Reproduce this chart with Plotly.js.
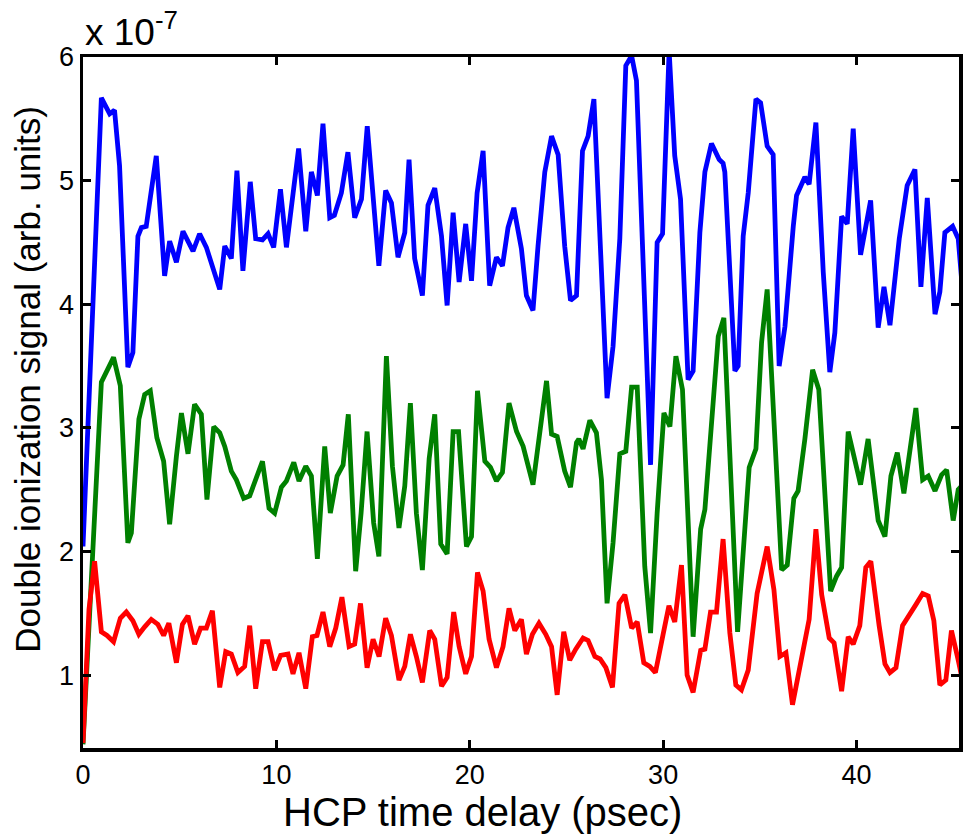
<!DOCTYPE html>
<html>
<head>
<meta charset="utf-8">
<script src="https://cdn.plot.ly/plotly-3.0.1.min.js"></script>
<style>
html,body{margin:0;padding:0;background:#fff;}
#chart{width:963px;height:838px;}
</style>
</head>
<body>
<div id="chart"></div>
<script>
// Values in units of 1e-7 (arb. units); x in psec
const blueX = [0,0.95,1.38,1.63,1.89,2.32,2.58,2.84,3.02,3.27,3.79,4.22,4.48,4.83,5.17,5.69,6.03,6.38,7.07,7.33,7.67,7.96,8.27,8.65,8.93,9.28,9.57,9.86,10.21,10.52,11.15,11.52,11.81,12.12,12.41,12.76,13.0,13.36,13.70,14.05,14.40,14.70,15.3,15.65,15.95,16.29,16.64,16.86,17.15,17.55,17.84,18.19,18.54,18.83,19.14,19.45,19.79,20.09,20.38,20.69,21.03,21.38,21.69,21.98,22.28,22.67,22.93,23.27,23.53,23.88,24.23,24.57,24.91,25.21,25.52,25.83,26.12,26.42,27.1,27.41,27.76,28.07,28.37,28.62,29.35,29.69,29.97,30.31,30.6,30.9,31.29,31.55,31.9,32.16,32.5,32.9,33.1,33.19,33.71,33.88,34.14,34.4,34.8,35.04,35.38,35.69,36.0,36.3,36.73,36.9,37.33,37.55,37.9,38.28,38.62,38.88,39.23,39.52,39.83,40.21,40.73,41.12,41.42,41.73,42.21,42.62,43.02,43.33,43.66,44.06,44.31,44.57,44.97,45.26,45.49];
const blueY = [2.04,5.67,5.54,5.57,5.12,3.49,3.61,4.55,4.62,4.63,5.20,4.23,4.51,4.34,4.59,4.43,4.57,4.46,4.12,4.47,4.37,5.08,4.27,4.99,4.53,4.52,4.57,4.46,4.93,4.46,5.26,4.59,5.07,4.88,5.46,4.70,4.72,4.90,5.23,4.70,4.85,5.44,4.31,4.92,4.82,4.38,4.58,5.17,4.37,4.07,4.80,4.94,4.55,3.99,4.74,4.18,4.65,4.19,4.90,5.24,4.15,4.38,4.31,4.62,4.78,4.45,4.07,3.95,4.47,5.07,5.36,5.21,4.47,4.03,4.07,5.24,5.36,5.66,3.24,3.66,4.53,5.93,6.01,5.81,2.70,4.50,4.57,6.05,5.20,4.85,3.39,3.46,4.58,5.07,5.30,5.17,5.14,5.07,3.46,3.50,4.55,4.90,5.66,5.63,5.28,5.21,3.50,3.82,4.63,4.88,5.03,4.97,5.47,4.26,3.45,3.77,4.71,4.65,5.42,4.40,4.84,3.81,4.14,3.83,4.53,4.96,5.09,4.14,4.86,3.92,4.10,4.58,4.63,4.53,4.10];

const greenX = [0,0.95,1.58,1.93,2.32,2.5,2.89,3.19,3.48,3.82,4.17,4.48,4.83,5.09,5.43,5.77,6.12,6.41,6.76,7.07,7.33,7.67,7.93,8.31,8.62,8.93,9.28,9.62,9.91,10.26,10.52,10.9,11.17,11.52,11.81,12.12,12.5,12.79,13.14,13.45,13.72,14.1,14.38,14.69,15.03,15.3,15.69,16.0,16.34,16.64,16.93,17.24,17.55,17.9,18.19,18.5,18.83,19.14,19.42,19.83,20.09,20.4,20.78,21.07,21.38,21.69,22.03,22.42,22.76,23.27,23.62,23.97,24.23,24.52,24.91,25.21,25.52,25.64,25.86,26.21,26.55,26.81,27.1,27.41,27.76,28.07,28.37,28.66,29.05,29.35,29.69,30.04,30.35,30.66,31.0,31.55,31.94,32.16,32.85,33.14,33.85,34.45,34.8,35.09,35.38,36.13,36.42,36.76,36.98,37.33,37.73,38.05,38.66,38.97,39.23,39.57,40.21,40.6,41.12,41.47,41.78,42.11,42.45,43.07,43.42,43.71,44.06,44.4,44.66,45.0,45.26,45.49];
const greenY = [0.44,3.37,3.57,3.34,2.07,2.15,3.07,3.27,3.30,2.92,2.73,2.22,2.77,3.12,2.79,3.19,3.11,2.42,3.01,2.96,2.85,2.65,2.58,2.43,2.45,2.58,2.73,2.35,2.31,2.52,2.57,2.72,2.57,2.69,2.61,1.94,2.85,2.31,2.61,2.70,3.11,1.84,2.31,2.97,2.23,1.96,3.58,2.69,2.19,2.53,3.20,2.31,1.85,2.75,3.11,2.06,1.98,2.97,2.97,2.04,2.12,3.30,2.73,2.68,2.57,2.64,3.20,2.97,2.85,2.54,2.96,3.38,2.95,2.93,2.65,2.52,2.88,2.91,2.83,3.06,2.96,2.58,1.58,2.07,2.79,2.81,3.33,3.33,1.88,1.34,2.31,3.12,3.01,3.58,3.31,1.31,2.18,2.34,3.74,3.89,1.35,2.68,2.83,3.69,4.12,1.85,1.89,2.43,2.49,2.91,3.47,3.31,1.68,1.80,1.87,2.97,2.54,2.91,2.25,2.12,2.61,2.80,2.47,3.16,2.58,2.61,2.49,2.62,2.66,2.25,2.50,2.54];

const redX = [0,0.31,0.6,0.95,1.24,1.58,1.93,2.24,2.58,2.89,3.19,3.53,3.87,4.17,4.44,4.83,5.14,5.43,5.77,6.08,6.38,6.69,7.07,7.38,7.67,8.01,8.36,8.62,8.93,9.28,9.57,9.91,10.22,10.6,10.86,11.17,11.52,11.86,12.1,12.41,12.76,13.07,13.39,13.76,14.05,14.35,14.69,15.0,15.31,15.65,15.95,16.34,16.64,16.93,17.24,17.55,17.93,18.19,18.54,18.83,19.17,19.45,19.79,20.09,20.4,20.69,21.0,21.38,21.72,22.03,22.33,22.67,22.93,23.24,23.58,23.93,24.23,24.52,24.86,25.17,25.48,25.86,26.12,26.47,26.74,27.04,27.38,27.72,28.02,28.37,28.66,29.0,29.31,29.6,30.0,30.3,30.6,30.95,31.24,31.55,31.94,32.16,32.45,32.76,33.1,33.45,33.76,34.05,34.4,34.86,35.38,35.73,36.04,36.35,36.69,37.24,37.55,37.9,38.2,38.59,38.84,39.23,39.57,39.83,40.17,40.48,40.74,41.17,41.47,41.73,42.04,42.38,42.73,43.07,43.42,43.71,44.0,44.31,44.62,44.91,45.26,45.49];
const redY = [0.45,1.53,1.92,1.35,1.32,1.27,1.46,1.51,1.44,1.33,1.39,1.45,1.41,1.32,1.42,1.10,1.41,1.48,1.25,1.38,1.38,1.52,0.90,1.19,1.17,1.02,1.07,1.40,0.89,1.27,1.27,1.04,1.16,1.17,1.01,1.18,0.89,1.31,1.32,1.51,1.23,1.38,1.63,1.23,1.25,1.58,1.06,1.29,1.15,1.46,1.32,0.96,1.07,1.33,1.15,0.94,1.36,1.29,0.91,0.98,1.51,1.23,1.01,1.15,1.83,1.68,1.29,1.06,1.23,1.54,1.36,1.45,1.17,1.33,1.42,1.33,1.23,0.84,1.35,1.12,1.21,1.30,1.28,1.15,1.13,1.06,0.90,1.58,1.65,1.38,1.43,1.10,1.07,1.02,1.33,1.56,1.43,1.89,1.00,0.86,1.20,1.21,1.51,1.51,2.10,1.34,0.92,0.88,1.04,1.66,2.04,1.69,1.15,1.18,0.76,1.21,1.45,2.18,1.65,1.30,1.26,0.87,1.31,1.25,1.40,1.87,1.92,1.40,1.09,1.02,1.06,1.40,1.48,1.57,1.66,1.64,1.44,0.92,0.96,1.36,1.12,0.95];

const xTicks = [0,10,20,30,40];
const yTicks = [1,2,3,4,5,6];
const xTitle = 'HCP time delay (psec)';
const yTitle = 'Double ionization signal (arb. units)';
const expLabel = 'x 10<sup>-7</sup>';

const FONT = 'Liberation Sans, Arial, Helvetica, sans-serif';
const lw = 4.8;
const traces = [
  {x: blueX, y: blueY, mode: 'lines', line: {color: '#0000ff', width: lw}, name: 'blue'},
  {x: greenX, y: greenY, mode: 'lines', line: {color: '#008000', width: lw}, name: 'green'},
  {x: redX, y: redY, mode: 'lines', line: {color: '#ff0000', width: lw}, name: 'red'}
];

const axisCommon = {
  showline: true, linecolor: '#000', linewidth: 3.5, mirror: 'ticks',
  ticks: 'inside', ticklen: 8, tickwidth: 3, tickcolor: '#000',
  showgrid: false, zeroline: false,
  tickfont: {family: FONT, size: 27, color: '#000'}
};

const layout = {
  width: 963, height: 838,
  margin: {l: 83, r: 4, t: 57, b: 90},
  paper_bgcolor: '#fff', plot_bgcolor: '#fff',
  showlegend: false,
  font: {family: FONT, color: '#000'},
  xaxis: Object.assign({}, axisCommon, {
    range: [0, 45.3], tickvals: xTicks, ticktext: xTicks.map(String)
  }),
  yaxis: Object.assign({}, axisCommon, {
    range: [0.41, 6], tickvals: yTicks, ticktext: yTicks.map(String)
  }),
  annotations: [
    {
      xref: 'paper', yref: 'paper', x: 0.4566, y: 0, xanchor: 'center', yanchor: 'middle',
      yshift: -64, text: xTitle, showarrow: false,
      font: {family: FONT, size: 40, color: '#000'}
    },
    {
      xref: 'paper', yref: 'paper', x: 0, y: 0.533, xanchor: 'center', yanchor: 'middle',
      xshift: -55, textangle: -90, text: yTitle, showarrow: false,
      font: {family: FONT, size: 35, color: '#000'}
    },
    {
      xref: 'paper', yref: 'paper', x: 0, y: 1, xanchor: 'left', yanchor: 'bottom',
      yshift: 2, text: expLabel, showarrow: false,
      font: {family: FONT, size: 37, color: '#000'}
    }
  ]
};

Plotly.newPlot('chart', traces, layout, {displayModeBar: false, staticPlot: true});
</script>
</body>
</html>
